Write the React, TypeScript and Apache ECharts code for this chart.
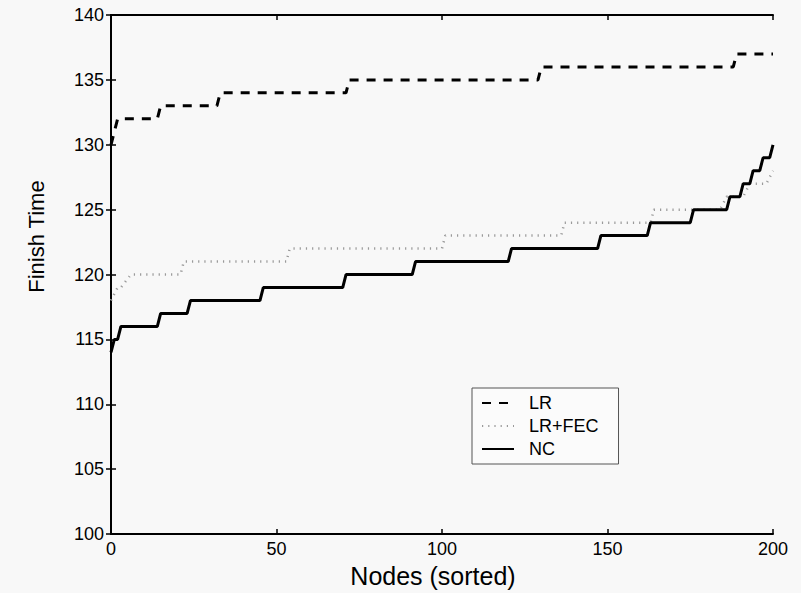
import React, { useEffect, useRef } from "react";
import * as echarts from "echarts";

const seriesNames = ["LR", "LR+FEC", "NC"];
const xTickValues = [0, 50, 100, 150, 200];
const yTickValues = [100, 105, 110, 115, 120, 125, 130, 135, 140];
// [firstNode, lastNode, finishTime]
const lrLevels = [
  [0, 0, 130], [1, 1, 131], [2, 14, 132], [15, 32, 133], [33, 71, 134],
  [72, 129, 135], [130, 188, 136], [189, 200, 137],
];
const fecLevels = [
  [0, 0, 118], [2, 3, 119], [6, 21, 120], [22, 53, 121], [54, 100, 122],
  [101, 136, 123], [137, 163, 124], [164, 184, 125], [186, 191, 126],
  [193, 198, 127], [200, 200, 128],
];
const ncLevels = [
  [0, 0, 114], [1, 2, 115], [3, 14, 116], [15, 23, 117], [24, 45, 118],
  [46, 70, 119], [71, 91, 120], [92, 120, 121], [121, 147, 122],
  [148, 162, 123], [163, 175, 124], [176, 186, 125], [187, 190, 126],
  [191, 193, 127], [194, 196, 128], [197, 199, 129], [200, 200, 130],
];

function toPoints(levels: number[][]) {
  const pts: number[][] = [];
  for (const [a, b, v] of levels) {
    pts.push([a, v]);
    if (b > a) pts.push([b, v]);
  }
  return pts;
}

const FONT = "Liberation Sans, Arial, Helvetica, sans-serif";

export default function App() {
  const ref = useRef<HTMLDivElement>(null);
  useEffect(() => {
    if (!ref.current) return;
    const chart = echarts.init(ref.current, undefined, { renderer: "svg" });
    const axisLine = { show: true, lineStyle: { color: "#000", width: 2 } };
    const tick = { show: true, inside: true, length: 5, lineStyle: { color: "#000", width: 1.5 } };
    chart.setOption({
      animation: false,
      backgroundColor: "#f8f8f8",
      textStyle: { fontFamily: FONT },
      grid: { left: 111, right: 28, top: 15, bottom: 56 },
      legend: {
        orient: "vertical",
        left: 472,
        top: 388,
        data: seriesNames,
        itemWidth: 32,
        itemHeight: 14,
        itemGap: 5,
        padding: [6, 20, 6, 9],
        borderColor: "#555",
        borderWidth: 1,
        backgroundColor: "#fbfbfb",
        itemStyle: { opacity: 0 },
        textStyle: { fontSize: 18, color: "#000", fontFamily: FONT, padding: [0, 0, 0, 10] },
      },
      xAxis: [
        {
          type: "value", min: 0, max: 200, interval: 50, position: "bottom",
          name: "Nodes (sorted)", nameLocation: "middle", nameGap: 28,
          nameTextStyle: { fontSize: 25, color: "#000", fontFamily: FONT, padding: [0, 18, 0, 0] },
          axisLine, axisTick: tick, splitLine: { show: false },
          axisLabel: { fontSize: 18, color: "#000", margin: 6, fontFamily: FONT,
            formatter: (v: number) => (xTickValues.includes(v) ? String(v) : "") },
        },
        {
          type: "value", min: 0, max: 200, interval: 50, position: "top",
          axisLine, axisTick: tick, axisLabel: { show: false }, splitLine: { show: false },
        },
      ],
      yAxis: [
        {
          type: "value", min: 100, max: 140, interval: 5, position: "left",
          name: "Finish Time", nameLocation: "middle", nameGap: 64,
          nameTextStyle: { fontSize: 22, color: "#000", fontFamily: FONT, padding: [0, 0, 0, 76] },
          axisLine, axisTick: tick, splitLine: { show: false },
          axisLabel: { fontSize: 18, color: "#000", margin: 7, fontFamily: FONT,
            formatter: (v: number) => (yTickValues.includes(v) ? String(v) : "") },
        },
        {
          type: "value", min: 100, max: 140, interval: 5, position: "right",
          axisLine, axisTick: tick, axisLabel: { show: false }, splitLine: { show: false },
        },
      ],
      series: [
        {
          name: seriesNames[0], type: "line", data: toPoints(lrLevels),
          showSymbol: false, symbol: "none", color: "#000",
          lineStyle: { color: "#000", width: 3, type: [9, 8] },
        },
        {
          name: seriesNames[1], type: "line", data: toPoints(fecLevels),
          showSymbol: false, symbol: "none", color: "#999",
          lineStyle: { color: "#9a9a9a", width: 2.5, type: [1.2, 5] },
        },
        {
          name: seriesNames[2], type: "line", data: toPoints(ncLevels),
          showSymbol: false, symbol: "none", color: "#000",
          lineStyle: { color: "#000", width: 3 },
        },
      ],
    });
    return () => chart.dispose();
  }, []);
  return <div ref={ref} style={{ width: 801, height: 593, position: "absolute", left: 0, top: 0 }} />;
}
